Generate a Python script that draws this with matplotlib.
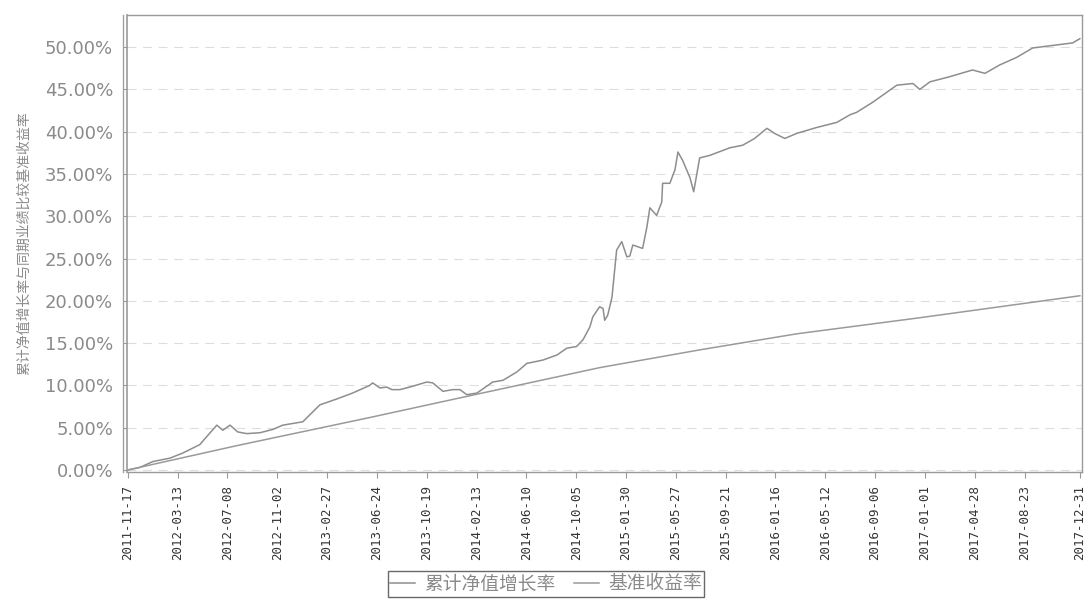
import matplotlib
matplotlib.use('Agg')
import matplotlib.pyplot as plt
import pandas as pd

# ---------------- data ----------------
fund_dates = [
    '2011-11-17', '2011-12-15', '2012-01-15', '2012-02-24', '2012-03-25', '2012-05-04',
    '2012-05-23', '2012-06-13', '2012-06-27', '2012-07-14', '2012-08-01', '2012-08-22',
    '2012-09-22', '2012-10-23', '2012-11-15', '2013-01-01', '2013-02-10', '2013-03-22',
    '2013-04-28', '2013-06-07', '2013-06-14', '2013-07-01', '2013-07-17', '2013-07-29',
    '2013-08-17', '2013-09-16', '2013-10-19', '2013-11-02', '2013-11-26', '2013-12-19',
    '2014-01-05', '2014-01-21', '2014-02-14', '2014-03-23', '2014-04-16', '2014-05-19',
    '2014-06-11', '2014-07-19', '2014-08-21', '2014-09-13', '2014-10-06', '2014-10-21',
    '2014-11-06', '2014-11-13', '2014-11-29', '2014-12-07', '2014-12-11', '2014-12-18',
    '2014-12-28', '2015-01-08', '2015-01-20', '2015-02-01', '2015-02-08', '2015-02-15',
    '2015-03-10', '2015-03-20', '2015-03-27', '2015-04-12', '2015-04-24', '2015-04-26',
    '2015-05-13', '2015-05-25', '2015-06-01', '2015-06-12', '2015-06-29', '2015-07-08',
    '2015-07-22', '2015-08-15', '2015-10-01', '2015-10-31', '2015-11-28', '2015-12-27',
    '2016-01-14', '2016-02-07', '2016-03-06', '2016-04-22', '2016-06-08', '2016-07-09',
    '2016-07-25', '2016-09-01', '2016-10-27', '2016-12-04', '2016-12-20', '2017-01-13',
    '2017-02-28', '2017-04-23', '2017-05-22', '2017-06-26', '2017-08-05', '2017-09-11',
    '2017-10-28', '2017-12-14', '2017-12-31',
]
fund_values = [
    0.0, 0.3, 1.0, 1.4, 2.0, 3.0,
    4.1, 5.3, 4.7, 5.3, 4.5, 4.3,
    4.4, 4.8, 5.3, 5.7, 7.7, 8.4,
    9.1, 10.0, 10.3, 9.7, 9.8, 9.5,
    9.5, 9.9, 10.4, 10.3, 9.3, 9.5,
    9.5, 8.9, 9.1, 10.4, 10.6, 11.6,
    12.6, 13.0, 13.6, 14.4, 14.6, 15.4,
    16.9, 18.1, 19.3, 19.1, 17.7, 18.3,
    20.4, 26.0, 27.0, 25.2, 25.3, 26.6,
    26.2, 28.7, 31.0, 30.1, 31.7, 33.9,
    33.9, 35.5, 37.6, 36.6, 34.6, 32.9,
    36.9, 37.2, 38.1, 38.4, 39.2, 40.4,
    39.8, 39.2, 39.8, 40.5, 41.1, 42.0,
    42.3, 43.5, 45.5, 45.7, 45.0, 45.9,
    46.5, 47.3, 46.9, 47.9, 48.8, 49.9,
    50.2, 50.5, 51.0,
]

bench_dates = ['2011-11-17', '2012-08-01', '2013-06-07', '2014-01-21', '2014-11-29',
               '2015-07-22', '2016-03-06', '2016-12-20', '2017-12-31']
bench_values = [0.0, 2.9, 6.2, 8.7, 12.1, 14.2, 16.1, 18.0, 20.6]

tick_labels = ['2011-11-17', '2012-03-13', '2012-07-08', '2012-11-02', '2013-02-27',
               '2013-06-24', '2013-10-19', '2014-02-13', '2014-06-10', '2014-10-05',
               '2015-01-30', '2015-05-27', '2015-09-21', '2016-01-16', '2016-05-12',
               '2016-09-06', '2017-01-01', '2017-04-28', '2017-08-23', '2017-12-31']
y_ticks = [0, 5, 10, 15, 20, 25, 30, 35, 40, 45, 50]

series_names = ['累计净值增长率', '基准收益率']
y_label = '累计净值增长率与同期业绩比较基准收益率'

# ---------------- plot ----------------
plt.rcParams['font.family'] = ['Noto Sans CJK SC', 'DejaVu Sans']

fig = plt.figure(figsize=(10.91, 6), dpi=100)
ax = fig.add_axes([127 / 1091, 1 - 472 / 600, (1082 - 127) / 1091, (472 - 15) / 600])

fx = pd.to_datetime(fund_dates)
bx = pd.to_datetime(bench_dates)
ax.plot(fx, fund_values, color='#8e8e8e', lw=1.1, label=series_names[0])
ax.plot(bx, bench_values, color='#9a9a9a', lw=1.1, label=series_names[1])

ticks = pd.to_datetime(tick_labels)
ax.set_xlim(ticks[0] - pd.Timedelta(days=2), ticks[-1] + pd.Timedelta(days=5))
ax.set_ylim(-0.24, 53.8)

ax.set_xticks(ticks)
ax.set_xticklabels(tick_labels, rotation=90, family='DejaVu Sans Mono',
                   fontsize=9, color='#333333')
ax.set_yticks(y_ticks)
ax.set_yticklabels(['%.2f%%' % v for v in y_ticks], family='DejaVu Sans',
                   fontsize=13, color='#8a8a8a')
ax.tick_params(axis='y', length=3, pad=7, color='#999999')
ax.tick_params(axis='x', length=4, pad=5, color='#999999')

ax.grid(axis='y', color='#dddddd', lw=0.8, linestyle=(0, (8, 6)))
ax.set_axisbelow(True)

for s in ax.spines.values():
    s.set_color('#9a9a9a')
    s.set_linewidth(1.0)
ax.spines['left'].set_linewidth(1.2)
# second (outer) frame line on the left, as in the scan
ax.plot([-0.0045, -0.0045], [0, 1], transform=ax.transAxes, clip_on=False,
        color='#a0a0a0', lw=1.0)

ax.set_ylabel(y_label, fontsize=10, color='#8a8a8a')
ax.yaxis.set_label_coords(-0.1005, 0.5)

leg = fig.legend(loc='upper center', bbox_to_anchor=(546 / 1091, 1 - 571 / 600),
                 ncol=2, fontsize=13.5, frameon=True, fancybox=False,
                 handlelength=1.3, handletextpad=0.5, columnspacing=1.0,
                 borderpad=0.12, borderaxespad=0.0, labelcolor='#8a8a8a')
leg.get_frame().set_edgecolor('#444444')
leg.get_frame().set_linewidth(1.0)

fig.savefig('out.png', dpi=100)
